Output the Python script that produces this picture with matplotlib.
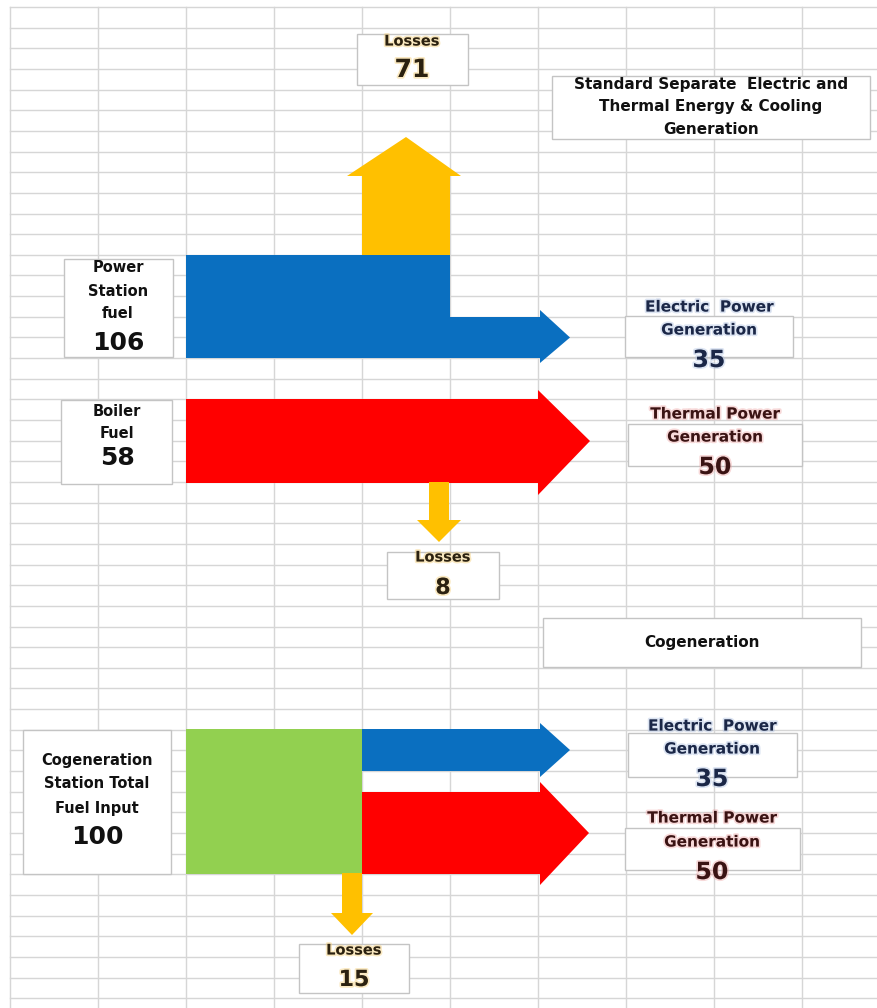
import matplotlib
matplotlib.use("Agg")
import matplotlib.pyplot as plt
from matplotlib.patches import Polygon, Rectangle
import matplotlib.patheffects as pe
import numpy as np

# energy flows (units of fuel energy)
sep_input_names = [["Power", "Station", "fuel"], ["Boiler", "Fuel"]]
sep_input_values = [106, 58]
sep_loss_values = [71, 8]
output_names = [["Electric  Power", "Generation"], ["Thermal Power", "Generation"]]
sep_output_values = [35, 50]

cogen_input_name = ["Cogeneration", "Station Total", "Fuel Input"]
cogen_input_value = 100
cogen_output_values = [35, 50]
cogen_loss_value = 15

titles = [["Standard Separate  Electric and", "Thermal Energy & Cooling", "Generation"],
          ["Cogeneration"]]

YELLOW = "#ffc000"
BLUE = "#0a6fc0"
RED = "#ff0000"
GREEN = "#92d050"
ELEC_TXT = "#1b2747"
HEAT_TXT = "#3a1313"
LOSS_TXT = "#2b2110"
FONT = "DejaVu Sans"

fig = plt.figure(figsize=(8.77, 10.08), dpi=100)
ax = fig.add_axes([0, 0, 1, 1])
ax.set_xlim(0, 877)
ax.set_ylim(1008, 0)
ax.axis("off")

# spreadsheet cell grid
for x in np.arange(10, 877, 88):
    ax.plot([x, x], [7, 1008], color="#d6d6d6", lw=1.0, zorder=0)
for y in np.arange(7, 1008, 20.65):
    ax.plot([10, 877], [y, y], color="#d6d6d6", lw=1.0, zorder=0)


def poly(pts, color):
    ax.add_patch(Polygon(pts, closed=True, facecolor=color, edgecolor="none", zorder=2))


def right_arrow(x0, x1, top, bot, head_top, head_bot, tip, color):
    mid = (top + bot) / 2
    poly([(x0, top), (x1, top), (x1, head_top), (tip, mid),
          (x1, head_bot), (x1, bot), (x0, bot)], color)


def vert_arrow(xl, xr, y0, y1, head_l, head_r, tip, color):
    mid = (xl + xr) / 2
    poly([(xl, y0), (xr, y0), (xr, y1), (head_r, y1), (mid, tip),
          (head_l, y1), (xl, y1)], color)


def box(x0, y0, x1, y1):
    ax.add_patch(Rectangle((x0, y0), x1 - x0, y1 - y0, facecolor="white",
                           edgecolor="#c4c4c4", lw=1.0, zorder=3))


def words(x, ys, lines, size, color="#111111", glow=None):
    fx = [pe.withStroke(linewidth=2.5, foreground=glow, alpha=0.4)] if glow else None
    for y, s in zip(ys, lines):
        ax.text(x, y, s, ha="center", va="center", fontsize=size, fontweight="bold",
                family=FONT, color=color, zorder=5, path_effects=fx)


# ---- separate generation ----
vert_arrow(362, 450, 257, 176, 347, 461, 137, YELLOW)
ax.add_patch(Rectangle((186, 255), 264, 103, facecolor=BLUE, edgecolor="none", zorder=2))
right_arrow(440, 540, 317, 358, 310, 363, 570, BLUE)
right_arrow(186, 538, 399, 483, 390, 495, 590, RED)
vert_arrow(429, 449, 482, 520, 417, 461, 542, YELLOW)

box(357, 34, 468, 85)
words(412, [41], ["Losses"], 10.5, LOSS_TXT, "#f3c866")
words(412, [70], [str(sep_loss_values[0])], 18, LOSS_TXT, "#f3c866")

box(552, 76, 870, 139)
words(711, [84, 107, 130], titles[0], 11)

box(64, 259, 173, 357)
words(118, [268, 291, 313], sep_input_names[0], 10.5)
words(118, [343], [str(sep_input_values[0])], 18)

box(61, 400, 172, 484)
words(117, [411, 433], sep_input_names[1], 10.5)
words(117, [458], [str(sep_input_values[1])], 18)

box(625, 316, 793, 357)
words(709, [307, 330], output_names[0], 11, ELEC_TXT, "#a9bde0")
words(709, [360], [str(sep_output_values[0])], 17, ELEC_TXT, "#a9bde0")

box(628, 424, 802, 466)
words(715, [414, 437], output_names[1], 11, HEAT_TXT, "#eca0a0")
words(715, [467], [str(sep_output_values[1])], 17, HEAT_TXT, "#eca0a0")

box(387, 552, 499, 599)
words(443, [557], ["Losses"], 10.5, LOSS_TXT, "#f3c866")
words(443, [588], [str(sep_loss_values[1])], 16, LOSS_TXT, "#f3c866")

# ---- cogeneration ----
box(543, 618, 861, 667)
words(702, [643], titles[1], 11)

ax.add_patch(Rectangle((186, 729), 176, 145, facecolor=GREEN, edgecolor="none", zorder=2))
right_arrow(362, 540, 729, 771, 723, 777, 570, BLUE)
right_arrow(362, 540, 792, 874, 782, 885, 589, RED)
vert_arrow(342, 362, 873, 913, 331, 373, 935, YELLOW)

box(23, 730, 171, 874)
words(97, [760, 784, 808], cogen_input_name, 10.5)
words(97, [837], [str(cogen_input_value)], 18)

box(628, 733, 797, 777)
words(712, [726, 749], output_names[0], 11, ELEC_TXT, "#a9bde0")
words(712, [779], [str(cogen_output_values[0])], 17, ELEC_TXT, "#a9bde0")

box(625, 828, 800, 870)
words(712, [818, 842], output_names[1], 11, HEAT_TXT, "#eca0a0")
words(712, [872], [str(cogen_output_values[1])], 17, HEAT_TXT, "#eca0a0")

box(299, 944, 409, 993)
words(354, [950], ["Losses"], 10.5, LOSS_TXT, "#f3c866")
words(354, [980], [str(cogen_loss_value)], 16, LOSS_TXT, "#f3c866")

fig.savefig("out.png", dpi=100)
